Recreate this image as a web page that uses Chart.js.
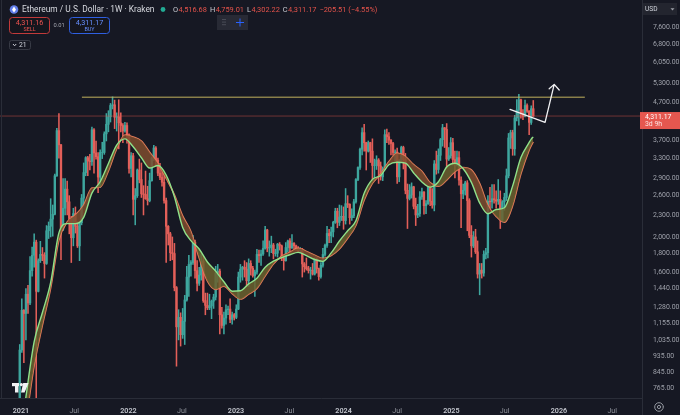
<!DOCTYPE html>
<html>
<head>
<meta charset="utf-8">
<title>Ethereum / U.S. Dollar - 1W - Kraken</title>
<script src="https://cdn.jsdelivr.net/npm/chart.js@4/dist/chart.umd.min.js"></script>
<style>
  html, body { margin: 0; padding: 0; background: #161823; }
  #wrap { position: relative; width: 680px; height: 415px; }
</style>
</head>
<body>
<div id="wrap"><canvas id="eth" width="680" height="415"></canvas></div>
<script>
// weekly candles, Kraken ETH/USD, first week starts Monday 2020-12-28
const firstWeek = '2020-12-28';
const firstOpen = 683;
const closes = [
  975,1255,1230,1390,1315,1615,1780,1935,1416,1720,
  1790,1780,1690,2080,2140,2240,2310,2950,3930,3590,
  2100,2400,2710,2500,2250,1990,2320,2140,1890,2190,
  2560,3010,3310,3240,3230,3950,3410,3330,2925,3420,
  3420,3850,4090,4290,4610,4630,4280,4290,4130,4060,
  3920,4060,3830,3090,3350,2540,2600,3060,2880,2630,
  2620,2550,2520,2860,3300,3520,3260,3000,2920,2830,
  2520,2140,2040,1810,1800,1450,1130,1200,1075,1170,
  1340,1550,1680,1700,1935,1615,1490,1570,1715,1335,
  1295,1275,1290,1330,1365,1590,1610,1220,1140,1195,
  1260,1265,1185,1220,1200,1265,1550,1630,1650,1630,
  1515,1690,1640,1565,1600,1790,1775,1795,1860,2090,
  1865,1870,1900,1800,1805,1910,1890,1750,1720,1870,
  1950,1865,1920,1890,1860,1830,1850,1685,1655,1635,
  1615,1620,1580,1730,1635,1555,1670,1790,1895,2045,
  2015,2065,2195,2355,2195,2270,2280,2220,2470,2460,
  2260,2290,2500,2880,3110,3490,3880,3640,3450,3640,
  3450,3150,3150,3260,3140,2930,3070,3830,3780,3700,
  3620,3420,3430,2930,3250,3530,3270,2690,2555,2610,
  2750,2430,2300,2320,2580,2660,2440,2470,2750,2510,
  2450,3180,3070,3360,3710,4000,3960,3280,3350,3640,
  3270,3210,3310,2870,2630,2690,2820,2520,2020,1890,
  2000,1820,1580,1620,1590,1790,1810,2510,2500,2550,
  2530,2510,2540,2230,2500,2570,2950,3750,3880,3500,
  4260,4480,4780,4390,4300,4610,4450,4140,4516.68,4311.17
];
const highs = [
  1010,1350,1260,1440,1470,1765,1875,2040,1960,1740,
  1945,1870,1810,2150,2200,2550,2450,2980,3990,4380,
  3600,2900,2900,2850,2600,2280,2400,2420,2200,2200,
  2620,3200,3330,3340,3380,4020,3980,3680,3420,3480,
  3650,3900,4380,4460,4670,4870,4770,4400,4780,4400,
  4110,4140,4130,3850,3420,3400,2720,3080,3280,3200,
  2770,3040,2760,3000,3320,3580,3550,3300,3190,3030,
  3000,2560,2150,2060,2000,1920,1460,1260,1235,1270,
  1380,1660,1780,1720,2020,1960,1720,1650,1790,1770,
  1400,1400,1390,1340,1390,1660,1680,1630,1280,1240,
  1300,1290,1350,1240,1230,1300,1600,1680,1660,1720,
  1700,1740,1720,1660,1620,1850,1840,1840,1950,2140,
  2100,1950,2010,1920,1850,1920,1930,1900,1780,1930,
  1960,1980,2030,1930,1900,1880,1870,1860,1700,1750,
  1660,1650,1690,1750,1750,1640,1700,1860,1910,2140,
  2100,2130,2210,2400,2400,2450,2440,2420,2720,2600,
  2470,2390,2540,2900,3120,3520,4000,4090,3650,3680,
  3650,3730,3280,3350,3290,3220,3120,3950,3970,3880,
  3710,3650,3480,3520,3270,3560,3560,3400,2800,2790,
  2820,2760,2560,2460,2670,2730,2670,2520,2760,2770,
  2720,3250,3450,3500,3740,4090,4010,4110,3530,3760,
  3740,3450,3450,3440,2930,2800,2850,2860,2550,2150,
  2070,2100,1950,1690,1690,1830,1860,2600,2740,2790,
  2790,2680,2880,2680,2520,2640,3080,3860,3940,3940,
  4330,4790,4950,4800,4490,4770,4660,4460,4600,4759.01
];
const lows = [
  680,960,900,1040,1230,1300,1560,1650,700,1410,
  1700,1720,1540,1680,1980,2000,2010,2300,2940,3300,
  1730,2080,2300,2300,2040,1700,1890,2050,1870,1720,
  2160,2450,2950,2950,3060,3150,3000,3280,2650,2740,
  3290,3380,3680,3900,4150,4510,3980,3920,3500,3900,
  3640,3890,3630,3000,2930,2300,2160,2570,2820,2570,
  2300,2540,2450,2500,2850,3250,3130,2950,2880,2760,
  2480,1700,1900,1720,1730,1420,880,1040,1000,1050,
  1010,1330,1370,1560,1680,1540,1420,1470,1520,1320,
  1220,1260,1260,1190,1270,1340,1500,1080,1120,1080,
  1150,1220,1160,1150,1180,1190,1260,1500,1520,1550,
  1460,1460,1570,1550,1370,1580,1700,1670,1780,1850,
  1820,1770,1810,1740,1770,1760,1840,1720,1620,1715,
  1820,1820,1860,1850,1830,1810,1810,1550,1600,1620,
  1590,1530,1570,1570,1590,1520,1540,1650,1770,1870,
  1930,1930,2000,2180,2120,2150,2220,2100,2170,2410,
  2170,2220,2260,2480,2860,3070,3370,3450,3060,3430,
  3210,2860,2860,3070,2810,2870,2860,3060,3640,3600,
  3370,3360,3240,2810,2840,3240,3080,2630,2110,2530,
  2560,2390,2150,2260,2280,2540,2310,2320,2460,2440,
  2400,2360,2980,3000,3250,3560,3530,3100,3250,3300,
  3160,2910,3140,2780,2120,2550,2610,2080,1990,1760,
  1870,1800,1540,1385,1540,1560,1740,1750,2400,2400,
  2480,2400,2460,2110,2200,2370,2520,2910,3510,3360,
  3360,4180,4070,4250,4210,4290,4410,3830,4090,4302.22
];

// bull market support band, read every 4th week (index of weekly candle)
const bandWeeks = [
  -1, 3, 7, 11, 15, 19, 23, 27, 31, 35, 39,
  43, 47, 51, 55, 59, 63, 67, 71, 75, 79,
  83, 87, 91, 95, 99, 103, 107, 111, 115, 119,
  123, 127, 131, 135, 139, 143, 147, 151, 155, 159,
  163, 167, 171, 175, 179, 183, 187, 191, 195, 199,
  203, 207, 211, 215, 219, 223, 227, 231, 235, 239,
  243, 247, 248, 249
];
const ema21 = [
  491, 724, 1028, 1238, 1498, 2053, 2177, 2176, 2265, 2642, 2840,
  3190, 3585, 3728, 3548, 3308, 3098, 3148, 2965, 2581, 2125,
  1953, 1853, 1706, 1610, 1504, 1417, 1421, 1484, 1538, 1650,
  1715, 1753, 1786, 1813, 1776, 1733, 1713, 1807, 1949, 2081,
  2216, 2639, 2883, 2955, 3164, 3215, 3198, 3003, 2837, 2745,
  2840, 3119, 3194, 3085, 2828, 2483, 2317, 2382, 2408, 2767,
  3311, 3645, 3724, 3777
];
const sma20 = [
  460, 622, 882, 1140, 1443, 1957, 2200, 2302, 2450, 2729, 2744,
  3041, 3496, 3822, 3776, 3681, 3426, 3189, 2901, 2616, 2286,
  2072, 1748, 1509, 1433, 1462, 1395, 1347, 1390, 1441, 1559,
  1684, 1770, 1816, 1861, 1826, 1782, 1746, 1777, 1853, 1983,
  2152, 2526, 2809, 2983, 3230, 3404, 3335, 3167, 3036, 2826,
  2759, 2869, 3026, 3108, 3062, 2810, 2447, 2278, 2195, 2437,
  2981, 3471, 3572, 3660
];

// x axis ticks
const tickDates = ['2021-01-01','2021-07-01','2022-01-01','2022-07-01','2023-01-01','2023-07-01',
                   '2024-01-01','2024-07-01','2025-01-01','2025-07-01','2026-01-01','2026-07-01'];
const tickLabels = ['2021','Jul','2022','Jul','2023','Jul','2024','Jul','2025','Jul','2026','Jul'];
// y axis ticks (log)
const priceTicks = [765, 845, 935, 1035, 1155, 1280, 1440, 1600, 1800, 2000,
                    2300, 2600, 2900, 3300, 3700, 4700, 5300, 6050, 6800, 7600];

// drawings
const athLevel = 4860;
const athFrom = '2021-07-27', athTo = '2026-03-30';
const arrowPath = [['2025-07-19', 4498], ['2025-11-15', 4142], ['2025-12-16', 5272]];
const arrowWings = [['2025-11-29', 5127], ['2026-01-02', 5085]];
const bidPrice = 4311.16, askPrice = 4311.17, spread = '0.01';
const countdown = '3d 9h';

const BG = '#161823';
const UP = '#3ea69e', DOWN = '#e35f59';
const FONT = 'Roboto, "Liberation Sans", sans-serif';

const dayOf = s => {
  const [y, m, d] = s.split('-').map(Number);
  return (Date.UTC(y, m - 1, d) - Date.UTC(2021, 0, 1)) / 864e5;
};
const startDay = dayOf(firstWeek);
const weekX = i => startDay + 7 * i;
const opens = closes.map((c, i) => i === 0 ? firstOpen : closes[i - 1]);
const candleColor = closes.map((c, i) => c >= opens[i] ? UP : DOWN);
const last = closes.length - 1;
const fmt = v => v.toLocaleString('en-US', {minimumFractionDigits: 2, maximumFractionDigits: 2});

const X_MIN = -71, X_MAX = 2108;

function drawHeader(chart) {
  const c = chart.ctx;
  c.save();
  c.textBaseline = 'middle';
  // eth icon
  c.fillStyle = '#627eea';
  c.beginPath(); c.arc(14, 9.5, 4.3, 0, Math.PI * 2); c.fill();
  c.fillStyle = '#fff';
  c.beginPath(); c.moveTo(14, 6.6); c.lineTo(16, 9.8); c.lineTo(14, 12.6); c.lineTo(12, 9.8); c.closePath(); c.fill();
  c.font = '8.4px ' + FONT;
  c.fillStyle = '#d6d8de';
  c.fillText('Ethereum / U.S. Dollar · 1W · Kraken', 22, 9.8);
  c.fillStyle = '#22ab94';
  c.beginPath(); c.arc(163, 9.5, 2.4, 0, Math.PI * 2); c.fill();
  // OHLC
  let x = 173;
  const parts = [['O', opens[last]], ['H', highs[last]], ['L', lows[last]], ['C', closes[last]]];
  c.font = '7.4px ' + FONT;
  parts.forEach(([k, v]) => {
    c.fillStyle = '#c9ccd3'; c.fillText(k, x, 9.8); x += c.measureText(k).width + 0.5;
    c.fillStyle = '#e5534b'; const t = fmt(v); c.fillText(t, x, 9.8); x += c.measureText(t).width + 3;
  });
  const chg = closes[last] - opens[last];
  const pct = chg / opens[last] * 100;
  c.fillStyle = '#e5534b';
  c.fillText('\u2212' + fmt(Math.abs(chg)) + ' (\u2212' + Math.abs(pct).toFixed(2) + '%)', x, 9.8);

  // toolbar handle
  c.fillStyle = 'rgba(42,45,55,0.92)';
  c.fillRect(217, 15, 31, 15);
  c.fillStyle = '#6a6d78';
  for (let r = 0; r < 3; r++) for (let k = 0; k < 2; k++) c.fillRect(222.5 + k * 2, 19 + r * 2.6, 1, 1);
  c.strokeStyle = '#2962ff'; c.lineWidth = 1;
  c.beginPath(); c.moveTo(240, 18.5); c.lineTo(240, 26.5); c.moveTo(236, 22.5); c.lineTo(244, 22.5); c.stroke();

  // sell / buy
  const box = (x0, w, border, txt, val, lab) => {
    c.fillStyle = '#15161e';
    c.strokeStyle = border; c.lineWidth = 1;
    c.beginPath();
    if (c.roundRect) c.roundRect(x0 + 0.5, 17.5, w, 16, 3); else c.rect(x0 + 0.5, 17.5, w, 16);
    c.fill(); c.stroke();
    c.textAlign = 'center';
    c.fillStyle = txt;
    c.font = '7.2px ' + FONT; c.fillText(fmt(val), x0 + w / 2 + 0.5, 23.2);
    c.font = '5.4px ' + FONT; c.fillText(lab, x0 + w / 2 + 0.5, 29.8);
    c.textAlign = 'left';
  };
  box(9, 40, '#c23a3a', '#ef5350', bidPrice, 'SELL');
  box(69, 40, '#2f5fe0', '#6790ff', askPrice, 'BUY');
  c.fillStyle = '#a3a6af'; c.font = '5.8px ' + FONT;
  c.fillText(spread, 53.5, 25.8);

  // collapse indicators button
  c.strokeStyle = '#373a45'; c.lineWidth = 1;
  c.beginPath();
  if (c.roundRect) c.roundRect(9.5, 40.5, 21, 9, 2); else c.rect(9.5, 40.5, 21, 9);
  c.stroke();
  c.strokeStyle = '#c9ccd3';
  c.beginPath(); c.moveTo(13, 44); c.lineTo(14.6, 45.8); c.lineTo(16.2, 44); c.stroke();
  c.fillStyle = '#d1d4dc'; c.font = '6.8px ' + FONT;
  c.fillText('21', 19, 45.3);

  // currency button
  c.fillStyle = '#23252f';
  c.fillRect(643, 3, 34, 12);
  c.fillStyle = '#d1d4dc'; c.font = '6.6px ' + FONT;
  c.fillText('USD', 645, 9.4);
  c.fillStyle = '#9da0a8';
  c.beginPath(); c.moveTo(670.5, 8.3); c.lineTo(674.5, 8.3); c.lineTo(672.5, 10.5); c.closePath(); c.fill();
  c.restore();
}

function drawOverlay(chart) {
  const c = chart.ctx;
  const xs = chart.scales.x, ys = chart.scales.y;
  const area = chart.chartArea;
  c.save();
  // panel borders
  c.strokeStyle = '#2a2d38'; c.lineWidth = 1;
  c.beginPath();
  c.moveTo(area.right + 0.5, area.bottom); c.lineTo(area.right + 0.5, chart.height);
  c.moveTo(1.5, 0); c.lineTo(1.5, area.bottom);
  c.stroke();

  // hand drawn arrow
  c.strokeStyle = '#f2f2f4'; c.lineWidth = 1.3; c.lineJoin = 'round'; c.lineCap = 'round';
  c.beginPath();
  arrowPath.forEach(([d, p], i) => {
    const px = xs.getPixelForValue(dayOf(d)), py = ys.getPixelForValue(p);
    if (i === 0) c.moveTo(px, py); else c.lineTo(px, py);
  });
  const tip = arrowPath[arrowPath.length - 1];
  const tx = xs.getPixelForValue(dayOf(tip[0])), ty = ys.getPixelForValue(tip[1]);
  arrowWings.forEach(([d, p]) => {
    c.moveTo(tx, ty); c.lineTo(xs.getPixelForValue(dayOf(d)), ys.getPixelForValue(p));
  });
  c.stroke();

  // last price tag
  const py = ys.getPixelForValue(closes[last]);
  c.fillStyle = '#e5574f';
  c.fillRect(area.right - 2, py - 4, chart.width - area.right + 2, 17);
  c.fillStyle = '#ffffff';
  c.textBaseline = 'middle';
  c.font = '6.9px ' + FONT;
  c.fillText(fmt(closes[last]), area.right + 3, py + 1);
  c.fillStyle = '#fde3e1';
  c.fillText(countdown, area.right + 3, py + 8.5);

  // tradingview mark
  c.fillStyle = '#f2f2f4';
  c.fillRect(12, 383, 7, 3.2);
  c.fillRect(15, 383, 3.4, 9.5);
  c.beginPath(); c.arc(21.4, 384.6, 1.6, 0, Math.PI * 2); c.fill();
  c.beginPath(); c.moveTo(23.2, 383); c.lineTo(28.5, 383); c.lineTo(24.6, 392.5); c.lineTo(21, 392.5); c.closePath(); c.fill();

  // settings icon
  c.strokeStyle = '#9598a1'; c.lineWidth = 1;
  c.beginPath(); c.arc(659, 407, 4.3, 0, Math.PI * 2); c.stroke();
  c.beginPath(); c.arc(659, 407, 1.6, 0, Math.PI * 2); c.stroke();
  c.restore();
  drawHeader(chart);
}

const tvPlugin = {
  id: 'tv',
  beforeDraw(chart) {
    const c = chart.ctx;
    c.save(); c.fillStyle = BG; c.fillRect(0, 0, chart.width, chart.height); c.restore();
  },
  afterDraw(chart) { drawOverlay(chart); }
};

new Chart(document.getElementById('eth'), {
  type: 'bar',
  data: {
    datasets: [
      {
        type: 'line', label: 'EMA 21',
        data: bandWeeks.map((w, i) => ({x: weekX(w), y: ema21[i]})),
        borderColor: '#8fe28a', borderWidth: 1.4, pointRadius: 0,
        cubicInterpolationMode: 'monotone',
        fill: {target: 1, above: 'rgba(108,98,46,0.85)', below: 'rgba(126,76,46,0.85)'},
        order: 1
      },
      {
        type: 'line', label: 'SMA 20',
        data: bandWeeks.map((w, i) => ({x: weekX(w), y: sma20[i]})),
        borderColor: '#f0815f', borderWidth: 1.4, pointRadius: 0,
        cubicInterpolationMode: 'monotone', fill: false,
        order: 1
      },
      {
        label: 'wicks',
        data: closes.map((c, i) => ({x: weekX(i), y: [lows[i], highs[i]]})),
        backgroundColor: candleColor, borderWidth: 0,
        barThickness: 0.9, grouped: false, order: 3
      },
      {
        label: 'bodies',
        data: closes.map((c, i) => ({x: weekX(i), y: [opens[i], c]})),
        backgroundColor: candleColor, borderWidth: 0,
        barThickness: 1.7, grouped: false, order: 2
      },
      {
        type: 'line', label: 'ATH',
        data: [{x: dayOf(athFrom), y: athLevel}, {x: dayOf(athTo), y: athLevel}],
        borderColor: '#c3b25e', borderWidth: 1, pointRadius: 0, fill: false, order: 0
      },
      {
        type: 'line', label: 'last',
        data: [{x: X_MIN, y: closes[last]}, {x: X_MAX, y: closes[last]}],
        borderColor: 'rgba(229,87,79,0.55)', borderWidth: 0.8,
        pointRadius: 0, fill: false, order: 0
      }
    ]
  },
  options: {
    responsive: false,
    animation: false,
    devicePixelRatio: window.devicePixelRatio || 1,
    layout: {padding: 0, autoPadding: false},
    plugins: {legend: {display: false}, tooltip: {enabled: false}},
    scales: {
      x: {
        type: 'linear', min: X_MIN, max: X_MAX, offset: false,
        grid: {display: false},
        border: {display: true, color: '#2a2d38'},
        afterBuildTicks: s => { s.ticks = tickDates.map(d => ({value: dayOf(d)})); },
        afterFit: s => { s.height = 17; s.paddingLeft = 0; s.paddingRight = 0; },
        ticks: {
          autoSkip: false, maxRotation: 0, padding: 1,
          color: ctx => ctx.index % 2 === 0 ? '#c3c6ce' : '#8f929b',
          font: ctx => ({size: 7.2, family: FONT, weight: ctx.index % 2 === 0 ? '600' : '400'}),
          callback: (v, i) => tickLabels[i]
        }
      },
      y: {
        type: 'logarithmic', position: 'right', min: 719, max: 9010,
        grid: {display: false},
        border: {display: true, color: '#2a2d38'},
        afterBuildTicks: s => { s.ticks = priceTicks.map(v => ({value: v})); },
        afterFit: s => { s.width = 38; s.paddingTop = 0; s.paddingBottom = 0; },
        ticks: {
          autoSkip: false, padding: 3, color: '#9ea1aa',
          font: {size: 6.9, family: FONT},
          callback: v => fmt(v)
        }
      }
    }
  },
  plugins: [tvPlugin]
});
</script>
</body>
</html>
